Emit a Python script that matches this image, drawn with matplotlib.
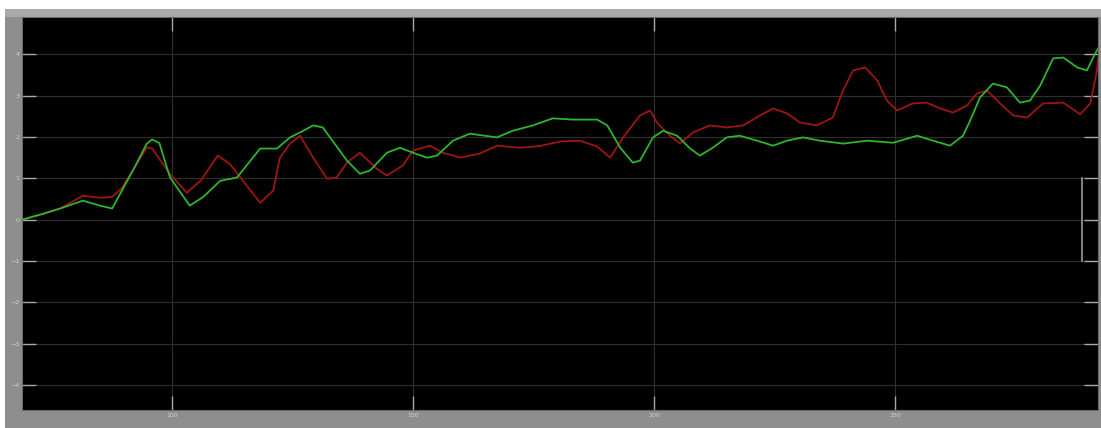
import matplotlib
matplotlib.use("Agg")
import matplotlib.pyplot as plt
from matplotlib.patches import Rectangle

# scope traces: time (s) and signal value
t_green = [68.9, 72.6, 76.8, 81.5, 85.1, 87.6, 91.9, 94.8, 95.9, 97.4, 99.6, 103.7, 106.5,
           110.0, 113.5, 118.3, 121.8, 124.5, 126.6, 129.3, 131.3, 136.3, 139.0, 141.1,
           144.6, 147.3, 150.0, 152.9, 155.0, 158.3, 161.8, 167.4, 170.7, 174.9, 179.0,
           183.2, 188.2, 190.3, 193.0, 195.6, 197.1, 199.8, 201.9, 204.8, 207.5, 209.5,
           212.2, 215.1, 217.8, 221.4, 224.7, 227.6, 230.9, 234.4, 239.2, 244.2, 249.6,
           254.6, 257.9, 261.4, 264.1, 265.6, 267.6, 270.3, 273.2, 275.9, 278.0, 280.1,
           282.8, 284.9, 287.8, 289.8, 291.1, 292.1]
y_green = [0.00, 0.12, 0.27, 0.46, 0.34, 0.27, 1.19, 1.84, 1.94, 1.85, 1.02, 0.34, 0.55,
           0.94, 1.02, 1.72, 1.72, 1.99, 2.11, 2.28, 2.23, 1.43, 1.11, 1.19,
           1.62, 1.74, 1.62, 1.50, 1.55, 1.91, 2.08, 1.99, 2.15, 2.28, 2.45,
           2.42, 2.42, 2.28, 1.74, 1.38, 1.43, 1.99, 2.15, 2.03, 1.72, 1.55,
           1.74, 1.99, 2.03, 1.91, 1.79, 1.91, 1.99, 1.91, 1.84, 1.91, 1.86,
           2.03, 1.91, 1.79, 2.03, 2.40, 2.95, 3.29, 3.20, 2.83, 2.88, 3.24,
           3.90, 3.92, 3.68, 3.61, 3.92, 4.14]

t_red = [68.9, 72.6, 76.8, 81.5, 85.1, 87.6, 89.5, 91.9, 94.8, 95.9, 99.6, 103.1, 106.0,
         109.5, 112.0, 118.3, 121.0, 122.4, 124.5, 126.6, 129.3, 132.2, 134.2, 136.3,
         139.0, 142.5, 144.6, 147.9, 150.0, 153.5, 156.2, 159.8, 163.9, 167.4, 172.2,
         176.3, 180.5, 184.6, 188.2, 190.9, 193.6, 197.1, 199.2, 200.6, 203.3, 205.4,
         208.1, 211.6, 215.1, 218.5, 222.0, 224.7, 227.6, 230.3, 233.8, 237.1, 239.2,
         241.3, 243.8, 246.3, 248.3, 250.4, 253.7, 256.6, 259.3, 262.0, 264.9, 267.0,
         269.1, 271.8, 274.5, 277.4, 280.7, 284.9, 288.4, 290.5, 291.9, 292.1]
y_red = [0.00, 0.12, 0.27, 0.58, 0.53, 0.55, 0.75, 1.19, 1.75, 1.72, 1.10, 0.65, 0.95,
         1.55, 1.35, 0.41, 0.70, 1.50, 1.84, 2.03, 1.50, 0.99, 1.02, 1.38,
         1.62, 1.23, 1.07, 1.31, 1.67, 1.79, 1.62, 1.50, 1.60, 1.79, 1.74,
         1.78, 1.89, 1.91, 1.77, 1.50, 1.99, 2.52, 2.64, 2.35, 2.03, 1.84,
         2.11, 2.28, 2.23, 2.28, 2.52, 2.69, 2.57, 2.35, 2.28, 2.47, 3.12,
         3.61, 3.68, 3.37, 2.88, 2.64, 2.81, 2.83, 2.69, 2.59, 2.76, 3.05,
         3.12, 2.81, 2.52, 2.47, 2.81, 2.83, 2.55, 2.81, 3.61, 3.90]

x_ticks = [100, 150, 200, 250]
y_ticks = [-4, -3, -2, -1, 0, 1, 2, 3, 4]

# data cursor
cursor_t = 288.8
cursor_y = [-0.99, 1.02]

fig = plt.figure(figsize=(11.01, 4.28), dpi=100, facecolor="white")
# window frame and title strip
fig.patches.append(Rectangle((5 / 1101, 0), 1, 1 - 9 / 428, transform=fig.transFigure,
                             facecolor="#8e8e8e", edgecolor="none", zorder=-10))
fig.patches.append(Rectangle((5 / 1101, 1 - 17 / 428), 1, 8 / 428, transform=fig.transFigure,
                             facecolor="#a9a9a9", edgecolor="none", zorder=-9))

ax = fig.add_axes([22 / 1101, 1 - 410 / 428, (1098 - 22) / 1101, (410 - 17) / 428])
ax.set_facecolor("black")
ax.plot(t_red, y_red, color="#9e1515", lw=1.3, zorder=3)
ax.plot(t_green, y_green, color="#2db52d", lw=1.3, zorder=4)
ax.plot([cursor_t, cursor_t], cursor_y, color="#9a9a9a", lw=1.2, zorder=5)

ax.set_xlim(68.9, 292.1)
ax.set_ylim(-4.6, 4.9)
ax.set_xticks(x_ticks)
ax.set_yticks(y_ticks)
ax.grid(True, color="#2f2f2f", lw=0.8)
ax.tick_params(direction="in", length=10, width=1, color="#a8a8a8",
               top=True, right=True, labelsize=4.5, labelcolor="#d0d0d0", pad=2)
for s in ax.spines.values():
    s.set_color("#6a6a6a")
    s.set_linewidth(0.8)

fig.savefig("out.png", dpi=100, facecolor=fig.get_facecolor())
